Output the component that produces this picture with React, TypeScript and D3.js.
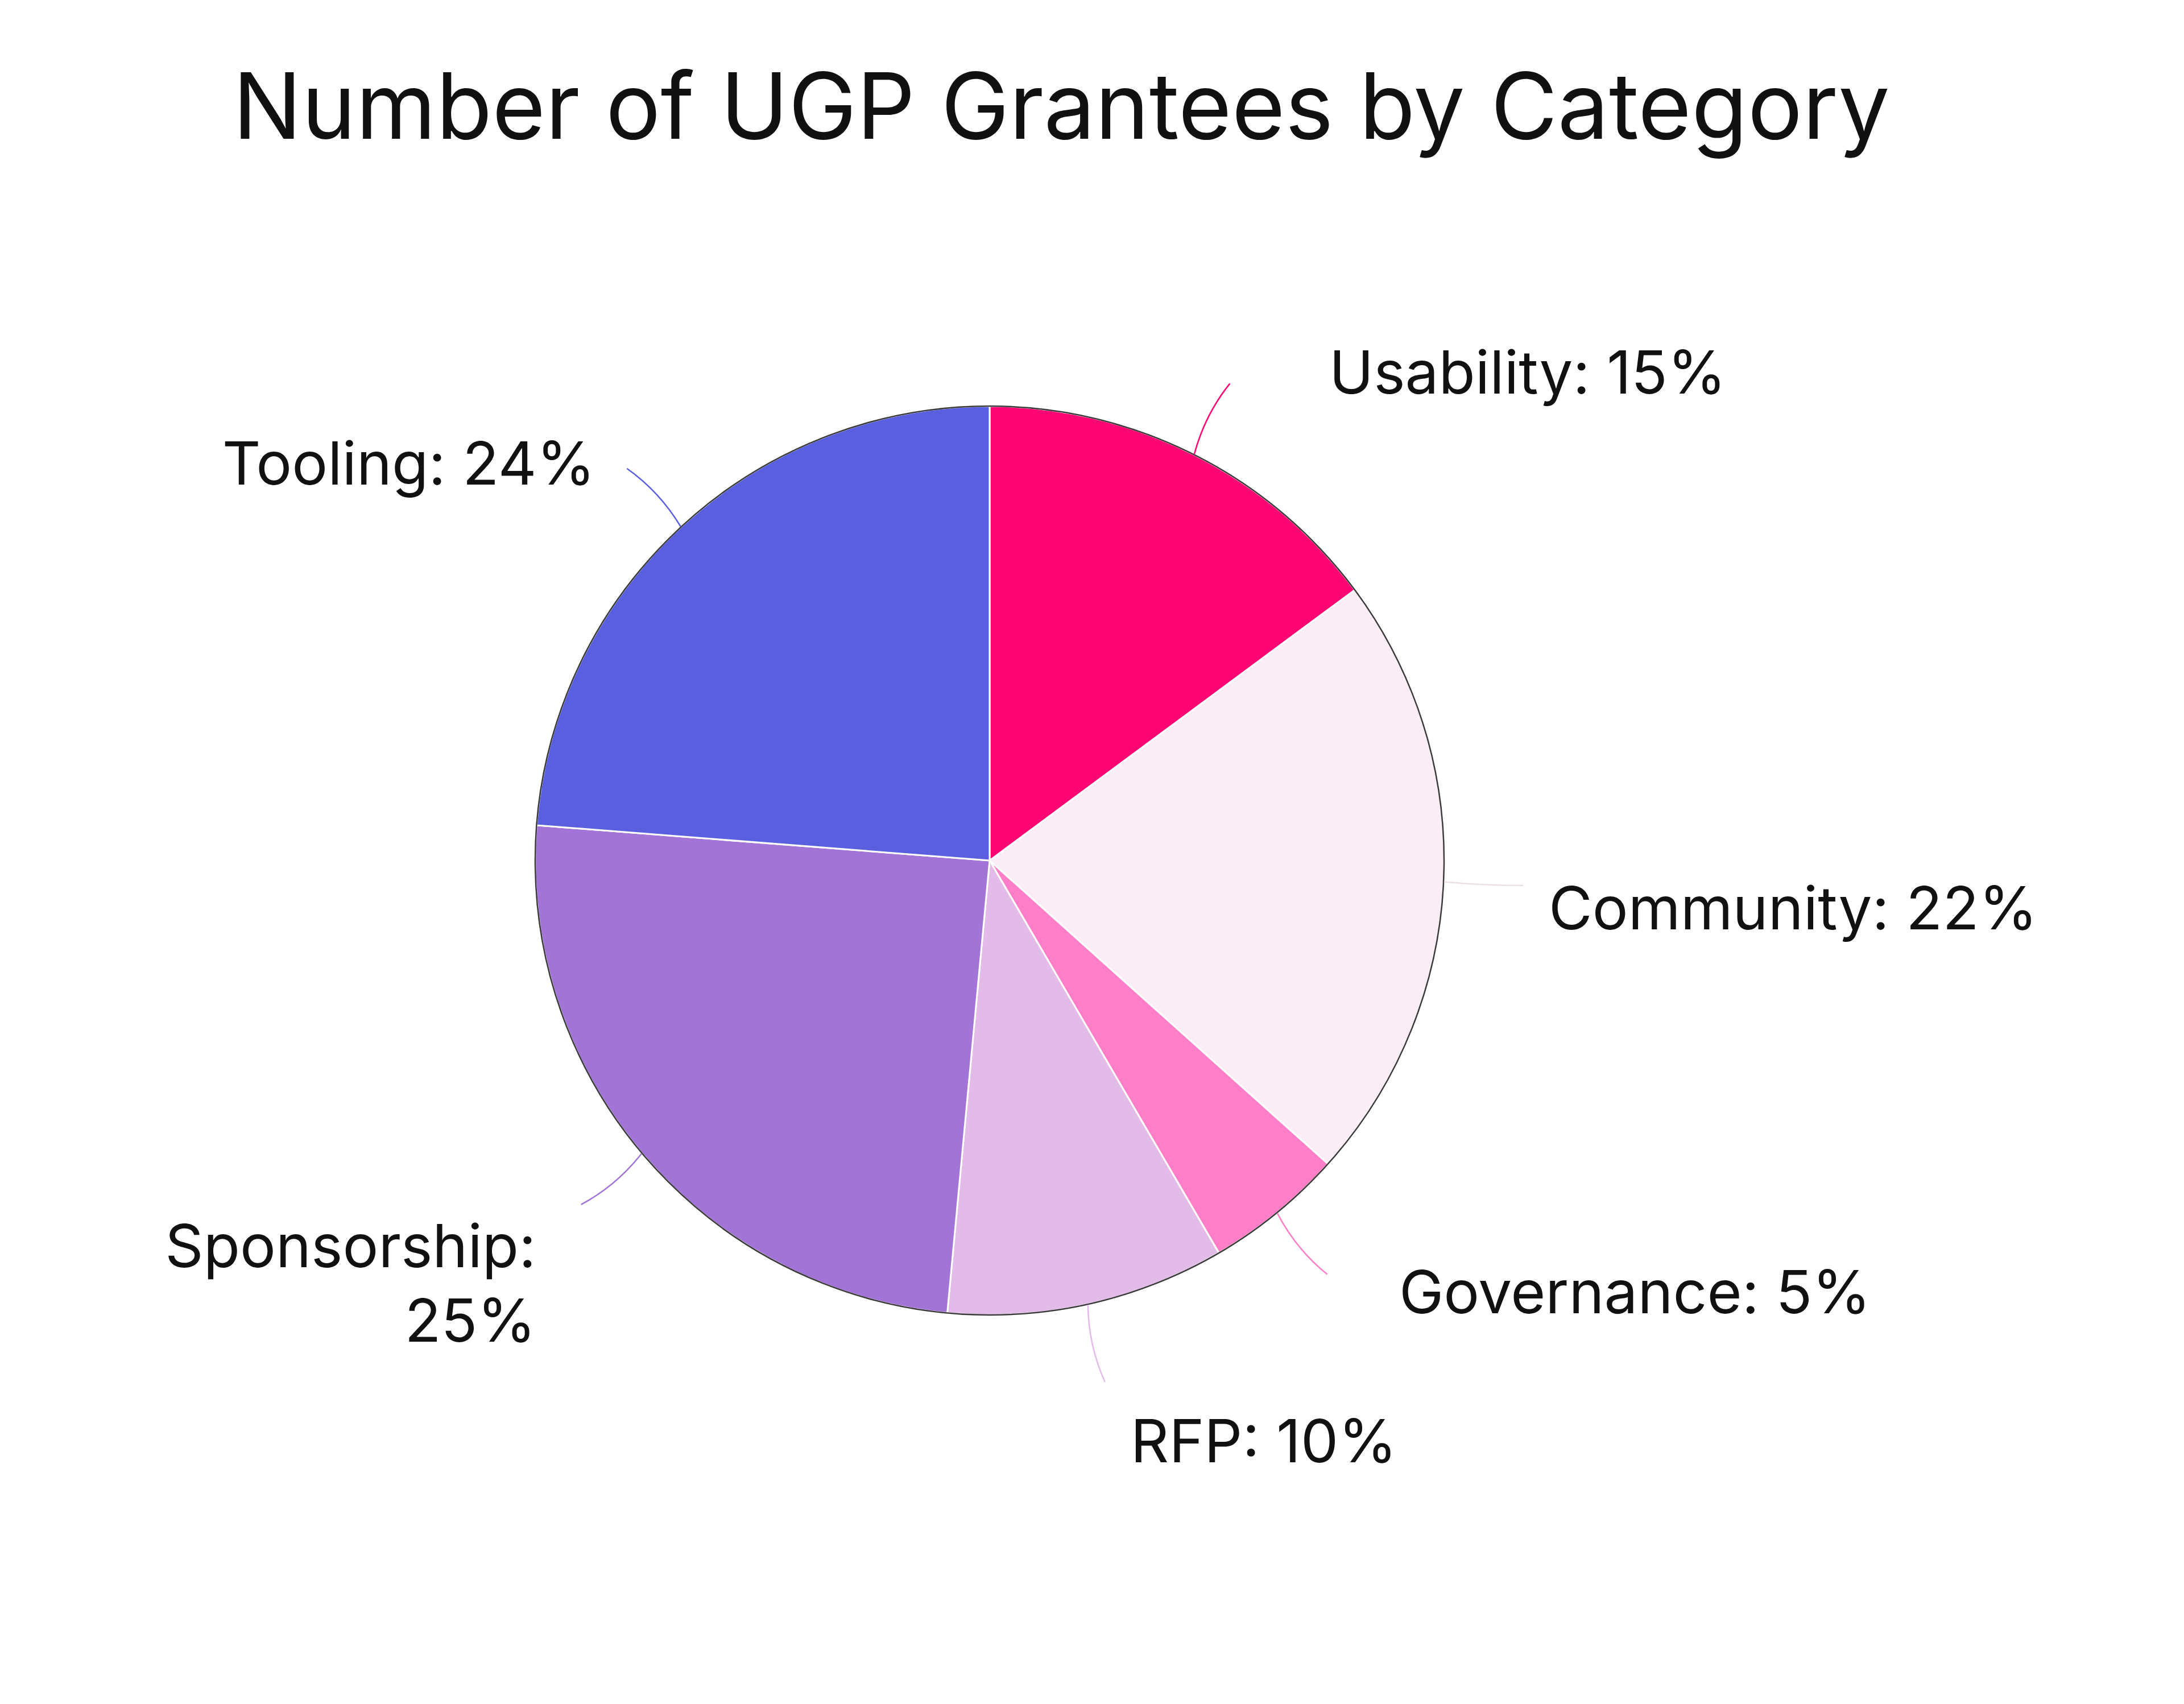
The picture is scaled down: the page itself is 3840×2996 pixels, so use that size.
import React from "react";
import * as d3 from "d3";

// share of UGP grantees per category (%), clockwise from 12 o'clock
const categories = ["Usability", "Community", "Governance", "RFP", "Sponsorship", "Tooling"];
const shares = [15, 22, 5, 10, 25, 24];
const sliceColors = ["#ff0473", "#faedf6", "#ff7ec7", "#e3bbe9", "#a274d7", "#5a5fe0"];

const title = "Number of UGP Grantees by Category";

// label placement tweaks: [angle offset in degrees, radius offset in px]
const labelNudge: [number, number][] = [
    [9.3, 7],
    [-0.1, -24],
    [-5.8, 10],
    [-1.7, 4],
    [1.4, 14],
    [-3.6, -50],
];

const W = 3840;
const H = 2996;
const cx = 1740;
const cy = 1513;
const radius = 799;
const lineLen = 140;
const labelRadius = 1008;
const fontSize = 105;
const capH = fontSize * 0.727;
const lineGap = fontSize * 1.24;
const font = "Inter, 'Noto Sans', sans-serif";

const wrapLabel = (s: string): string[] => {
    if (s.length <= 15) return [s];
    const i = s.indexOf(": ");
    return [s.slice(0, i + 1), s.slice(i + 2)];
};

const App: React.FC = () => {
    const pie = d3.pie<number>().sort(null).value((d) => d);
    const arcs = pie(shares);
    const arc = d3.arc<d3.PieArcDatum<number>>().innerRadius(0).outerRadius(radius);

    return (
        <div style={{ position: "absolute", left: 0, top: 0 }}>
            <svg width={W} height={H} viewBox={`0 0 ${W} ${H}`} style={{ display: "block", background: "#fff" }}>
                <text x={1866} y={244} textAnchor="middle" fontFamily={font} fontSize={161} fill="#111">
                    {title}
                </text>

                <g transform={`translate(${cx},${cy})`}>
                    {/* slices */}
                    {arcs.map((d, i) => (
                        <path key={i} d={arc(d) as string} fill={sliceColors[i]} stroke="#fff" strokeWidth={3} />
                    ))}
                    <circle r={radius} fill="none" stroke="#3a3a3a" strokeWidth={2.5} />

                    {/* connectors */}
                    {arcs.map((d, i) => {
                        const a = (d.startAngle + d.endAngle) / 2;
                        const ux = Math.sin(a);
                        const uy = -Math.cos(a);
                        const A = [ux * (radius + 1), uy * (radius + 1)];
                        const B = [ux * (radius + lineLen), uy * (radius + lineLen)];
                        const th = Math.atan2(uy, ux);
                        const target = ux >= 0 ? 0 : th > 0 ? Math.PI : -Math.PI;
                        const diff = target - th;
                        const rot = (12 * Math.PI) / 180;
                        const te = th + Math.sign(diff) * Math.min(Math.abs(diff), rot);
                        const Q = [B[0] - (lineLen / 2) * Math.cos(te), B[1] - (lineLen / 2) * Math.sin(te)];
                        const p = d3.path();
                        p.moveTo(A[0], A[1]);
                        p.quadraticCurveTo(Q[0], Q[1], B[0], B[1]);
                        const stroke = i === 1 ? "#ece0e8" : sliceColors[i];
                        return <path key={i} d={p.toString()} fill="none" stroke={stroke} strokeWidth={2.5} />;
                    })}

                    {/* labels */}
                    {arcs.map((d, i) => {
                        const [da, dr] = labelNudge[i];
                        const a = (d.startAngle + d.endAngle) / 2 + (da * Math.PI) / 180;
                        const R = labelRadius + dr;
                        const px = Math.sin(a) * R;
                        const py = -Math.cos(a) * R;
                        const lines = wrapLabel(`${categories[i]}: ${shares[i]}%`);
                        const anchor = Math.sin(a) >= 0 ? "start" : "end";
                        const upper = Math.cos(a) > 0;
                        const y0 = upper ? py - (lines.length - 1) * lineGap : py + capH;
                        return (
                            <text key={i} x={px} y={y0} textAnchor={anchor} fontFamily={font} fontSize={fontSize} fill="#111">
                                {lines.map((l, j) => (
                                    <tspan key={j} x={px} dy={j === 0 ? 0 : lineGap}>
                                        {l}
                                    </tspan>
                                ))}
                            </text>
                        );
                    })}
                </g>
            </svg>
        </div>
    );
};

export default App;
